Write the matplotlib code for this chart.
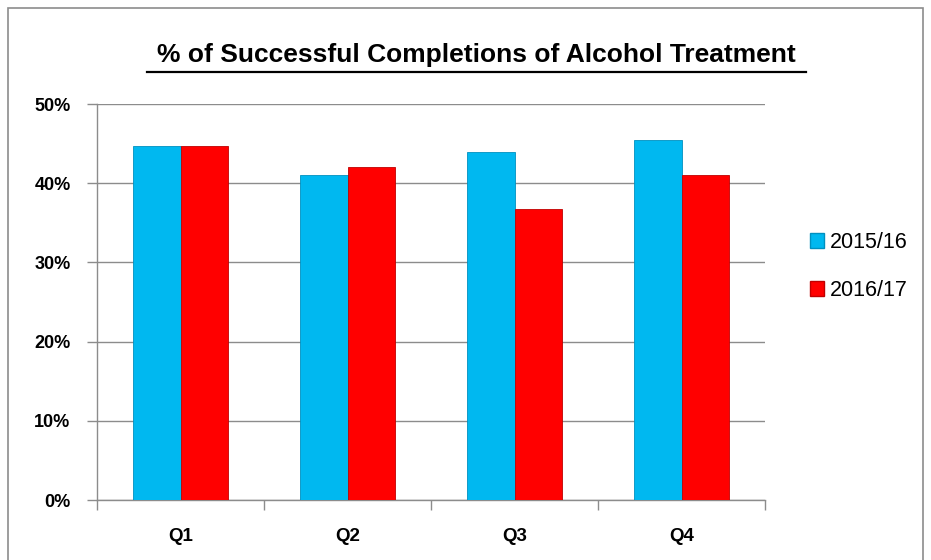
import matplotlib
matplotlib.use("Agg")
import matplotlib.pyplot as plt
import numpy as np
from matplotlib.patches import Rectangle
from matplotlib.lines import Line2D

# data
quarters = ["Q1", "Q2", "Q3", "Q4"]
series_names = ["2015/16", "2016/17"]
vals_1516 = [44.7, 41.0, 44.0, 45.5]
vals_1617 = [44.7, 42.1, 36.7, 41.1]
y_ticks = [0, 10, 20, 30, 40, 50]

plt.rcParams['font.family'] = ['Liberation Sans', 'DejaVu Sans']

fig = plt.figure(figsize=(9.31, 5.6), dpi=100)
ax = fig.add_axes([0.1042, 0.1071, 0.7175, 0.7071])

# outer chart border (bottom edge runs off the image like the original)
fig.patches.append(Rectangle((0.009, -0.02), 0.982, 1.006, transform=fig.transFigure,
                             fill=False, edgecolor="#8c8c8c", linewidth=1.2))

x = np.arange(len(quarters))
w = 0.285
blue = "#00B8F0"
red = "#FF0000"
ax.bar(x - w / 2, vals_1516, w, color=blue, edgecolor="#0090c0", linewidth=0.6,
       label=series_names[0], zorder=3)
ax.bar(x + w / 2, vals_1617, w, color=red, edgecolor="#c00000", linewidth=0.6,
       label=series_names[1], zorder=3)

ax.set_xlim(-0.5, 3.5)
ax.set_ylim(0, 50)
ax.set_yticks(y_ticks)
ax.set_yticklabels([f"{t}%" for t in y_ticks], fontsize=13, fontweight="bold")
ax.yaxis.grid(True, color="#8c8c8c", linewidth=1.0, zorder=0)
ax.set_axisbelow(True)

# x ticks at category boundaries, labels at centres
ax.set_xticks(np.arange(-0.5, 4.0, 1.0))
ax.set_xticklabels([])
ax.tick_params(axis="x", length=7, color="#8c8c8c", width=1)
ax.tick_params(axis="y", length=7, color="#8c8c8c", width=1, pad=12)
for i, q in enumerate(quarters):
    ax.text(i, -4.6, q, ha="center", va="center", fontsize=13.5, fontweight="bold")

for s in ["top", "right"]:
    ax.spines[s].set_visible(False)
for s in ["left", "bottom"]:
    ax.spines[s].set_color("#8c8c8c")
    ax.spines[s].set_linewidth(1)

# title with underline
fig.text(0.5115, 0.902, "% of Successful Completions of Alcohol Treatment",
         ha="center", va="center", fontsize=19, fontweight="bold")
fig.add_artist(Line2D([0.158, 0.866], [0.871, 0.871], transform=fig.transFigure,
                      color="black", linewidth=1.6))

handles = [Rectangle((0, 0), 1, 1, facecolor=blue, edgecolor="#0090c0"),
           Rectangle((0, 0), 1, 1, facecolor=red, edgecolor="#c00000")]
fig.legend(handles, series_names, loc="center left", bbox_to_anchor=(0.849, 0.524),
           frameon=False, fontsize=15.5, handlelength=0.65, handleheight=0.65,
           handletextpad=0.3, labelspacing=1.25)

fig.savefig("out.png", dpi=100)
